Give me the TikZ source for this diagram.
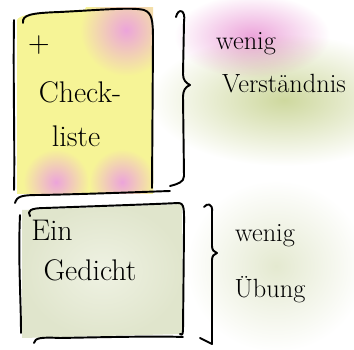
\documentclass[tikz,border=0pt]{standalone}
\usepackage{tikz}

\definecolor{boxyellow}{RGB}{246,244,150}
\definecolor{pinkspot}{RGB}{236,164,218}
\definecolor{greenwash}{RGB}{206,216,158}
\definecolor{boxgreen}{RGB}{224,229,204}
\definecolor{palegreen}{RGB}{228,233,208}

\tikzset{
  pen/.style={line width=1.1pt, line cap=round, line join=round},
  boxtext/.style={font=\fontsize{17}{19}\selectfont, inner sep=0pt},
  sidetext/.style={font=\fontsize{15}{17}\selectfont, inner sep=0pt}
}

\begin{document}
\begin{tikzpicture}[x=0.02cm, y=-0.02cm]
\useasboundingbox (0,0) rectangle (354,350);

% washes behind the notes
\begin{scope}[blend mode=multiply]
\shade[inner color=pinkspot, outer color=white] (252,36) ellipse (78 and 42);
\shade[inner color=greenwash, outer color=white] (284,100) ellipse (135 and 66);
\shade[inner color=palegreen, outer color=white] (276,266) ellipse (90 and 86);
\end{scope}

% Check-liste box
\fill[boxyellow] (17,20) .. controls (20,12) and (60,10) .. (140,8) .. controls (151,9) and (153,14) .. (153,25) -- (153,192) -- (17,194) -- cycle;
\begin{scope}
\clip (17,8) rectangle (153,194);
\shade[inner color=pinkspot, outer color=boxyellow] (126,30) circle (46);
\shade[inner color=pinkspot, outer color=boxyellow] (56,182) circle (33);
\shade[inner color=pinkspot, outer color=boxyellow] (122,182) circle (33);
\end{scope}
\draw[pen] (14,20) .. controls (13,80) and (15,150) .. (14,190);
\draw[pen] (23,23) .. controls (22,15) and (30,13) .. (60,12) .. controls (100,10) and (132,7) .. (144,10) .. controls (152,13) and (153,20) .. (153,40) -- (152,188);
\draw[pen] (15,203) .. controls (17,196) and (22,195) .. (40,195) .. controls (90,194) and (140,192) .. (170,191);

\node[boxtext] (plus) at (39,45) {+};
\node[boxtext] (check) at (80,92) {Check-};
\node[boxtext] (liste) at (76,136) {liste};

% brace, upper note
\draw[pen] (176,17) .. controls (178,8) and (186,9) .. (184,22) -- (183,74) .. controls (183,80) and (186,83) .. (190,85) .. controls (185,87) and (183,91) .. (183,97) -- (184,176) .. controls (184,182) and (178,184) .. (170,186);

\node[sidetext] (wenigtop) at (246,44) {wenig};
\node[sidetext] (verst) at (284,84) {Verständnis};

% Ein Gedicht box
\shade[inner color=palegreen!60!white, outer color=boxgreen] (22,210) -- (182,204) -- (183,334) -- (22,338) -- cycle;
\draw[pen] (20,215) .. controls (18,260) and (21,300) .. (21,333);
\draw[pen] (30,216) .. controls (27,211) and (30,208) .. (45,208) .. controls (100,206) and (160,204) .. (178,203) .. controls (185,203) and (184,210) .. (184,230) -- (183,330) .. controls (183,335) and (181,336) .. (180,334);
\draw[pen] (34,343) .. controls (35,338) and (40,337) .. (60,338) .. controls (110,337) and (160,336) .. (183,337);

\node[boxtext] (ein) at (52,230) {Ein};
\node[boxtext] (gedicht) at (90,270) {Gedicht};

% brace, lower note
\draw[pen] (204,207) .. controls (207,203) and (213,203) .. (212,212) -- (212,246) .. controls (212,250) and (214,252) .. (217,253) .. controls (214,254) and (212,256) .. (212,260) -- (212,344) .. controls (208,342) and (204,340) .. (200,338);

\node[sidetext] (wenigbot) at (265,236) {wenig};
\node[sidetext] (uebung) at (270,290) {Übung};
\end{tikzpicture}
\end{document}
